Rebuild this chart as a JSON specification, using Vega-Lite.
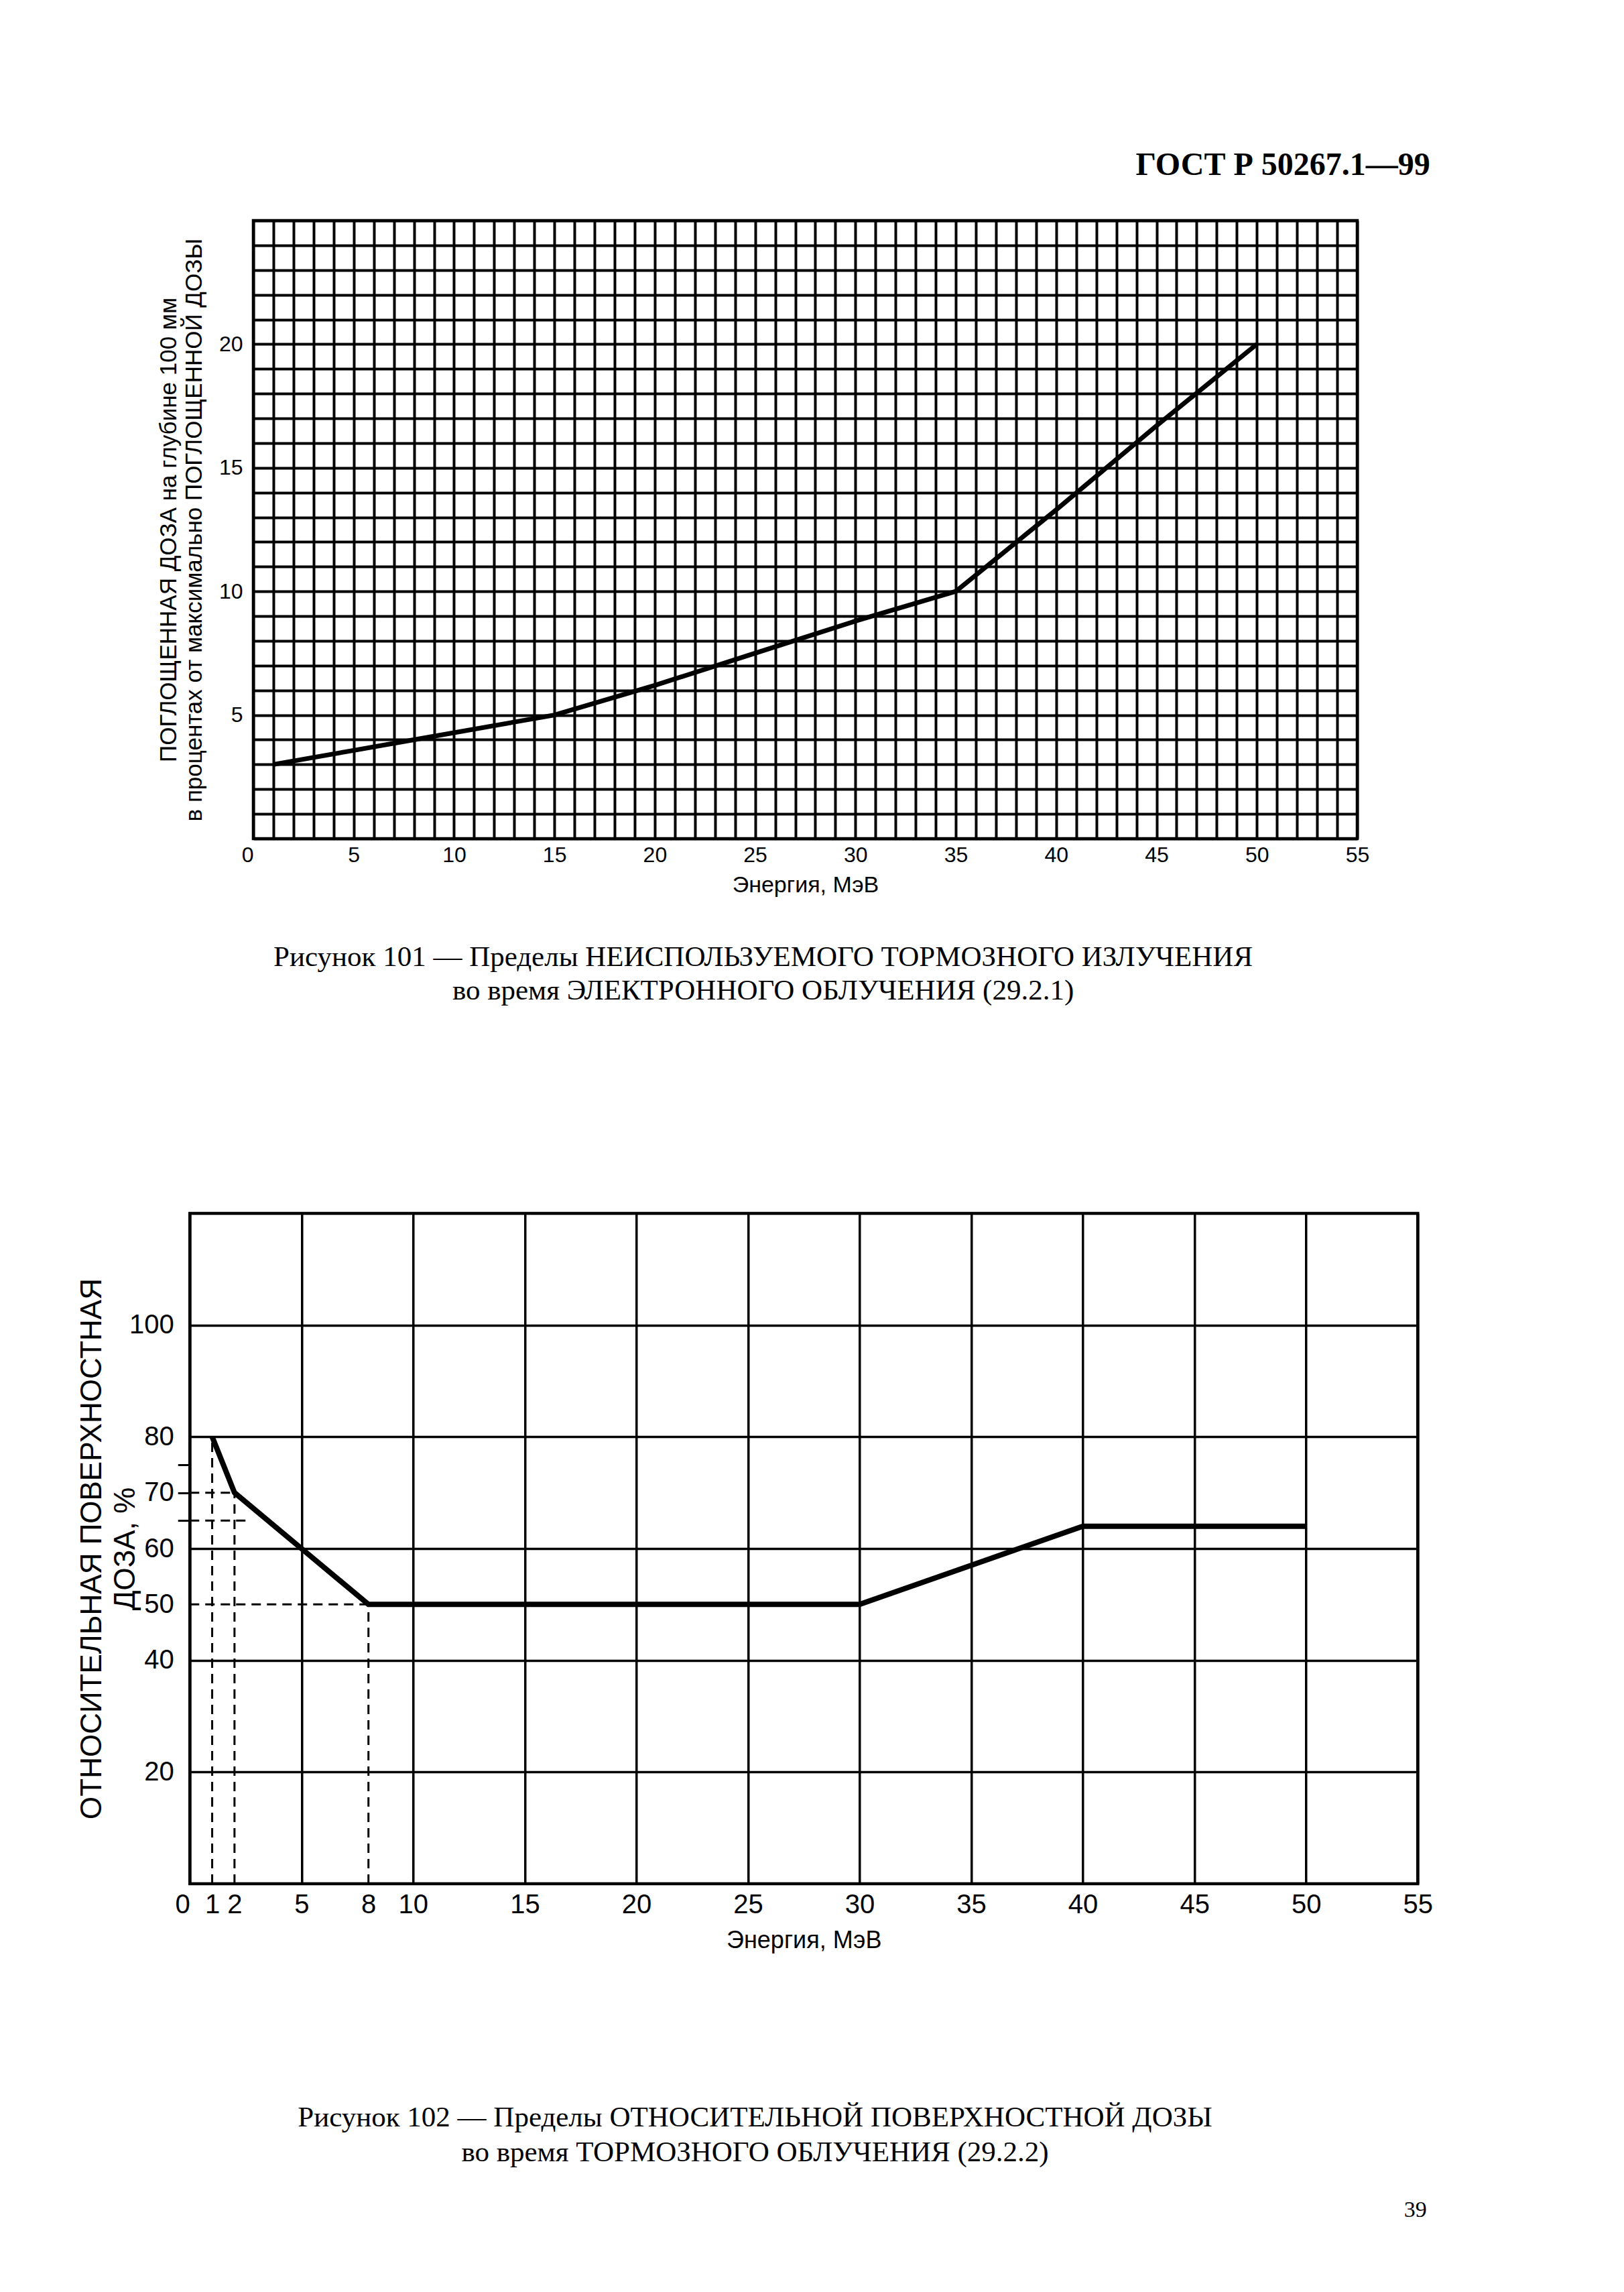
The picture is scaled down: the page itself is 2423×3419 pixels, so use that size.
{
  "$schema": "https://vega.github.io/schema/vega-lite/v6.json",
  "background": "white",
  "padding": {"left": 113, "top": 222, "right": 0, "bottom": 0},
  "title": {"text": "39", "orient": "bottom", "anchor": "end", "font": "Liberation Serif", "fontSize": 34, "fontWeight": "normal", "color": "black", "offset": 45, "dx": -11},
  "datasets": {
    "fig101": [
      {"E": 1, "D": 3},
      {"E": 5, "D": 3.57},
      {"E": 8, "D": 4},
      {"E": 15, "D": 5},
      {"E": 20, "D": 6.2},
      {"E": 25, "D": 7.5},
      {"E": 30, "D": 8.8},
      {"E": 35, "D": 10},
      {"E": 40, "D": 13.3},
      {"E": 45, "D": 16.7},
      {"E": 50, "D": 20}
    ],
    "fig102": [
      {"E": 1, "D": 80},
      {"E": 2, "D": 70},
      {"E": 5, "D": 60},
      {"E": 8, "D": 50},
      {"E": 30, "D": 50},
      {"E": 35, "D": 57},
      {"E": 40, "D": 64},
      {"E": 50, "D": 64}
    ],
    "guides102": [
      {"E": 1, "E2": 1, "D": 0, "D2": 80},
      {"E": 2, "E2": 2, "D": 0, "D2": 70},
      {"E": 8, "E2": 8, "D": 0, "D2": 50},
      {"E": 0, "E2": 2, "D": 70, "D2": 70},
      {"E": 0, "E2": 2.5, "D": 65, "D2": 65},
      {"E": 0, "E2": 8, "D": 50, "D2": 50}
    ]
  },
  "vconcat": [
    {
      "title": {"text": "ГОСТ Р 50267.1—99", "orient": "top", "anchor": "end", "font": "Liberation Serif", "fontSize": 48, "fontWeight": "bold", "color": "black", "offset": 40, "dx": -6},
      "center": true,
      "spacing": 304,
      "vconcat": [
        {
          "width": 1647,
          "height": 922,
          "title": {"text": ["Рисунок 101 — Пределы НЕИСПОЛЬЗУЕМОГО ТОРМОЗНОГО ИЗЛУЧЕНИЯ", "во время ЭЛЕКТРОННОГО ОБЛУЧЕНИЯ (29.2.1)"], "orient": "bottom", "anchor": "middle", "frame": "bounds", "font": "Liberation Serif", "fontSize": 43, "fontWeight": "normal", "color": "black", "lineHeight": 50, "offset": 70},
          "data": {"name": "fig101"},
          "mark": {"type": "line", "color": "black", "strokeWidth": 7, "clip": true},
          "encoding": {
            "x": {
              "field": "E", "type": "quantitative",
              "scale": {"domain": [0, 55], "nice": false, "zero": false},
              "axis": {
                "values": [0,1,2,3,4,5,6,7,8,9,10,11,12,13,14,15,16,17,18,19,20,21,22,23,24,25,26,27,28,29,30,31,32,33,34,35,36,37,38,39,40,41,42,43,44,45,46,47,48,49,50,51,52,53,54,55],
                "grid": true, "gridWidth": 4, "gridColor": "black", "gridOpacity": 1,
                "ticks": false, "domain": false,
                "labelExpr": "datum.value % 5 === 0 ? datum.label : ''",
                "labelFont": "Liberation Sans", "labelFontSize": 32, "labelColor": "black", "labelPadding": 9,
                "labelFlush": false, "labelOverlap": false, "labelBound": false,
                "labelAlign": {"condition": {"test": "datum.value === 0", "value": "right"}, "value": "center"},
                "title": "Энергия, МэВ", "titleFont": "Liberation Sans", "titleFontSize": 34, "titleFontWeight": "normal", "titleColor": "black", "titlePadding": 12
              }
            },
            "y": {
              "field": "D", "type": "quantitative",
              "scale": {"domain": [0, 25], "nice": false, "zero": false},
              "axis": {
                "values": [0,1,2,3,4,5,6,7,8,9,10,11,12,13,14,15,16,17,18,19,20,21,22,23,24,25],
                "grid": true, "gridWidth": 4, "gridColor": "black", "gridOpacity": 1,
                "ticks": false, "domain": false,
                "labelExpr": "datum.value % 5 === 0 && datum.value > 0 && datum.value < 25 ? datum.label : ''",
                "labelFont": "Liberation Sans", "labelFontSize": 32, "labelColor": "black", "labelPadding": 16,
                "labelOverlap": false, "labelBound": false, "labelFlush": false,
                "title": ["ПОГЛОЩЕННАЯ ДОЗА на глубине 100 мм", "в процентах от максимально ПОГЛОЩЕННОЙ ДОЗЫ"],
                "titleFont": "Liberation Sans", "titleFontSize": 35, "titleFontWeight": "normal", "titleColor": "black", "titleLineHeight": 38, "titlePadding": 19
              }
            }
          }
        },
        {
          "width": 1832,
          "height": 1000,
          "title": {"text": ["Рисунок 102 — Пределы ОТНОСИТЕЛЬНОЙ ПОВЕРХНОСТНОЙ ДОЗЫ", "во время ТОРМОЗНОГО ОБЛУЧЕНИЯ (29.2.2)"], "orient": "bottom", "anchor": "middle", "frame": "bounds", "font": "Liberation Serif", "fontSize": 43, "fontWeight": "normal", "color": "black", "lineHeight": 52, "offset": 226},
          "encoding": {
            "x": {
              "field": "E", "type": "quantitative",
              "scale": {"domain": [0, 55], "nice": false, "zero": false},
              "axis": {
                "values": [0,1,2,5,8,10,15,20,25,30,35,40,45,50,55],
                "grid": true, "gridWidth": 3.5, "gridColor": "black",
                "gridOpacity": {"condition": {"test": "datum.value % 5 !== 0", "value": 0}, "value": 1},
                "ticks": false, "domain": false,
                "labelFont": "Liberation Sans", "labelFontSize": 40, "labelColor": "black", "labelPadding": 11,
                "labelFlush": false, "labelOverlap": false, "labelBound": false,
                "labelAlign": {"condition": {"test": "datum.value === 0", "value": "right"}, "value": "center"},
                "title": "Энергия, МэВ", "titleFont": "Liberation Sans", "titleFontSize": 36, "titleFontWeight": "normal", "titleColor": "black", "titlePadding": 16
              }
            },
            "y": {
              "field": "D", "type": "quantitative",
              "scale": {"domain": [0, 120], "nice": false, "zero": false},
              "axis": {
                "values": [20, 40, 50, 60, 65, 70, 75, 80, 100],
                "grid": true, "gridWidth": 3.5, "gridColor": "black",
                "gridOpacity": {"condition": {"test": "datum.value % 20 !== 0", "value": 0}, "value": 1},
                "ticks": true, "tickSize": 18, "tickWidth": 3, "tickColor": "black",
                "tickOpacity": {"condition": {"test": "datum.value === 65 || datum.value === 70 || datum.value === 75", "value": 1}, "value": 0},
                "domain": false,
                "labelExpr": "datum.value === 65 || datum.value === 75 ? '' : datum.label",
                "labelFont": "Liberation Sans", "labelFontSize": 40, "labelColor": "black", "labelPadding": 6,
                "labelOverlap": false, "labelBound": false, "labelFlush": false,
                "title": ["ОТНОСИТЕЛЬНАЯ ПОВЕРХНОСТНАЯ", "ДОЗА, %"],
                "titleFont": "Liberation Sans", "titleFontSize": 44, "titleFontWeight": "normal", "titleColor": "black", "titleLineHeight": 50, "titlePadding": -17
              }
            }
          },
          "layer": [
            {
              "data": {"name": "guides102"},
              "mark": {"type": "rule", "color": "black", "strokeWidth": 3, "strokeDash": [14, 9]},
              "encoding": {
                "x2": {"field": "E2"},
                "y2": {"field": "D2"}
              }
            },
            {
              "data": {"name": "fig102"},
              "mark": {"type": "line", "color": "black", "strokeWidth": 8, "strokeJoin": "miter"},
              "encoding": {}
            }
          ]
        }
      ]
    }
  ],
  "config": {
    "view": {"stroke": "black", "strokeWidth": 4.5},
    "axis": {"domain": false}
  }
}
